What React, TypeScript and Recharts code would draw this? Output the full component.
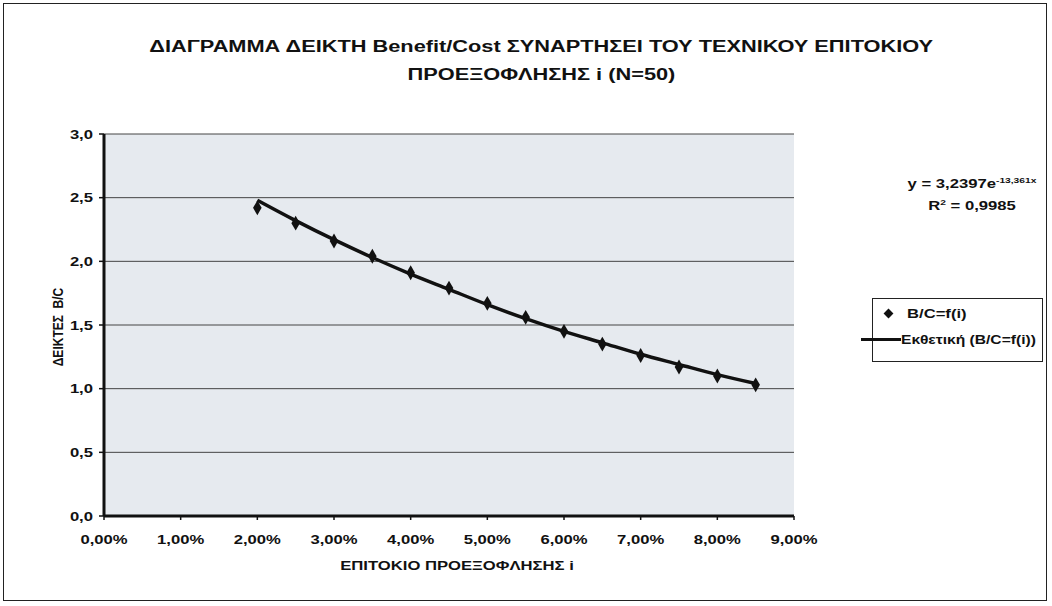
import {
  ComposedChart,
  Line,
  Scatter,
  XAxis,
  YAxis,
  CartesianGrid,
} from "recharts";

// interest rate i (fraction)
const rates = [0.02, 0.025, 0.03, 0.035, 0.04, 0.045, 0.05, 0.055, 0.06, 0.065, 0.07, 0.075, 0.08, 0.085];
// B/C index
const bcValues = [2.42, 2.3, 2.16, 2.04, 1.91, 1.79, 1.67, 1.56, 1.45, 1.35, 1.26, 1.17, 1.1, 1.03];
// exponential trendline values
const trendValues = [2.48, 2.32, 2.17, 2.03, 1.9, 1.78, 1.66, 1.55, 1.45, 1.36, 1.27, 1.19, 1.11, 1.04];

const xTicks = [0, 0.01, 0.02, 0.03, 0.04, 0.05, 0.06, 0.07, 0.08, 0.09];
const yTicks = [0, 0.5, 1, 1.5, 2, 2.5, 3];

const FONT = '"Liberation Sans", Arial, sans-serif';
// the scanned original is stretched sideways
const STRETCH = 1.28;

const data = rates.map((x, i) => ({ x, bc: bcValues[i], trend: trendValues[i] }));

function formatPct(v: number): string {
  return `${(v * 100).toFixed(2).replace(".", ",")}%`;
}

function formatY(v: number): string {
  return v.toFixed(1).replace(".", ",");
}

function XTick(props: any) {
  const { x, y, payload } = props;
  return (
    <text
      transform={`translate(${x},${y + 22}) scale(${STRETCH},1)`}
      textAnchor="middle"
      fontSize={13}
      fontWeight={700}
      fontFamily={FONT}
      fill="#111"
    >
      {formatPct(payload.value)}
    </text>
  );
}

function YTick(props: any) {
  const { x, y, payload } = props;
  return (
    <text
      transform={`translate(${x},${y + 4.5}) scale(${STRETCH},1)`}
      textAnchor="end"
      fontSize={13}
      fontWeight={700}
      fontFamily={FONT}
      fill="#111"
    >
      {formatY(payload.value)}
    </text>
  );
}

const stretched = { display: "inline-block", transform: `scaleX(${STRETCH})` } as const;

export default function App() {
  return (
    <div
      style={{
        position: "fixed",
        left: 0,
        top: 0,
        width: 1052,
        height: 606,
        background: "#fff",
        fontFamily: FONT,
        fontWeight: 700,
        color: "#111",
      }}
    >
      <div
        style={{
          position: "absolute",
          left: 3,
          top: 3,
          width: 1044,
          height: 598,
          border: "1px solid #222",
          boxSizing: "border-box",
        }}
      />
      <div
        style={{
          position: "absolute",
          left: 0,
          width: 1082,
          top: 33,
          textAlign: "center",
          fontSize: 16,
          lineHeight: "28px",
        }}
      >
        <span style={{ ...stretched, transform: "scaleX(1.36)" }}>
          ΔΙΑΓΡΑΜΜΑ ΔΕΙΚΤΗ Benefit/Cost ΣΥΝΑΡΤΗΣΕΙ ΤΟΥ ΤΕΧΝΙΚΟΥ ΕΠΙΤΟΚΙΟΥ
        </span>
        <br />
        <span style={{ ...stretched, transform: "scaleX(1.36)" }}>ΠΡΟΕΞΟΦΛΗΣΗΣ i (N=50)</span>
      </div>

      <ComposedChart
        width={1052}
        height={606}
        data={data}
        margin={{ top: 134, right: 258, left: 44, bottom: 60 }}
        style={{ position: "absolute", left: 0, top: 0 }}
      >
        <CartesianGrid vertical={false} stroke="#444" fill="#e6eaef" fillOpacity={1} />
        <XAxis
          dataKey="x"
          type="number"
          domain={[0, 0.09]}
          ticks={xTicks}
          tick={<XTick />}
          tickLine={{ stroke: "#111", strokeWidth: 1.5 }}
          tickSize={4}
          axisLine={{ stroke: "#111", strokeWidth: 3 }}
          height={30}
        />
        <YAxis
          type="number"
          domain={[0, 3]}
          ticks={yTicks}
          tick={<YTick />}
          tickLine={{ stroke: "#111", strokeWidth: 1.5 }}
          tickSize={5}
          tickMargin={6}
          axisLine={{ stroke: "#111", strokeWidth: 3 }}
          width={60}
        />
        <Line
          type="monotone"
          dataKey="trend"
          stroke="#111"
          strokeWidth={3.5}
          dot={false}
          activeDot={false}
          isAnimationActive={false}
        />
        <Scatter dataKey="bc" fill="#111" shape="diamond" isAnimationActive={false} />
      </ComposedChart>

      <div
        style={{
          position: "absolute",
          left: 58,
          top: 327,
          fontSize: 12,
          transform: "translate(-50%, -50%) rotate(-90deg) scaleY(1.25)",
          whiteSpace: "nowrap",
        }}
      >
        ΔΕΙΚΤΕΣ&nbsp;&nbsp;B/C
      </div>
      <div
        style={{
          position: "absolute",
          left: 457,
          top: 558,
          fontSize: 13,
          whiteSpace: "nowrap",
          transform: `translateX(-50%) scaleX(${STRETCH})`,
        }}
      >
        ΕΠΙΤΟΚΙΟ ΠΡΟΕΞΟΦΛΗΣΗΣ i
      </div>

      <div
        style={{
          position: "absolute",
          left: 972,
          top: 170,
          fontSize: 13,
          lineHeight: "22px",
          textAlign: "center",
          whiteSpace: "nowrap",
          transform: `translateX(-50%) scaleX(${STRETCH})`,
        }}
      >
        <div>
          y = 3,2397e<sup style={{ fontSize: 8 }}>-13,361x</sup>
        </div>
        <div style={{ marginTop: -3 }}>
          R<sup style={{ fontSize: 8 }}>2</sup> = 0,9985
        </div>
      </div>

      <div
        style={{
          position: "absolute",
          left: 872,
          top: 298,
          width: 171,
          height: 64,
          border: "1px solid #222",
          boxSizing: "border-box",
          fontSize: 13,
          background: "#fff",
        }}
      >
        <div style={{ position: "absolute", left: 12, top: 7, display: "flex", alignItems: "center" }}>
          <span
            style={{
              display: "inline-block",
              width: 7,
              height: 7,
              background: "#111",
              transform: "rotate(45deg)",
              marginRight: 15,
            }}
          />
          <span style={{ ...stretched, transformOrigin: "left center" }}>B/C=f(i)</span>
        </div>
        <div style={{ position: "absolute", left: -12, top: 33, display: "flex", alignItems: "center" }}>
          <span style={{ display: "inline-block", width: 40, height: 3, background: "#111", marginRight: 0 }} />
          <span
            style={{
              display: "inline-block",
              transform: "scaleX(1.2)",
              transformOrigin: "left center",
              whiteSpace: "nowrap",
            }}
          >
            Εκθετική (B/C=f(i))
          </span>
        </div>
      </div>
    </div>
  );
}
